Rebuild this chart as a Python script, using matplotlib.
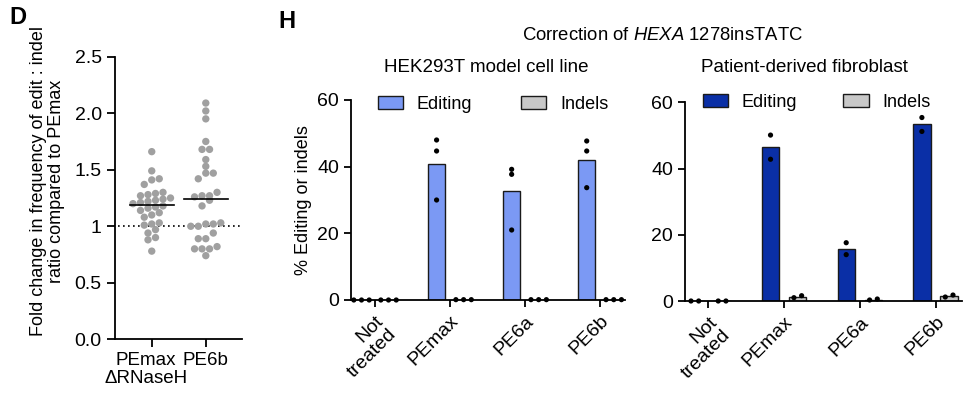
import numpy as np
import matplotlib
matplotlib.use("Agg")
import matplotlib.pyplot as plt
from matplotlib.patches import Patch
from matplotlib.transforms import ScaledTranslation

plt.rcParams["font.family"] = ["Liberation Sans", "DejaVu Sans"]
plt.rcParams["mathtext.fontset"] = "custom"
plt.rcParams["mathtext.rm"] = "Liberation Sans"
plt.rcParams["mathtext.it"] = "Liberation Sans:italic"

# --- Panel D data ---
d_groups = ["PEmax\nΔRNaseH", "PE6b"]
d_pemax = [1.66, 1.49, 1.42, 1.41, 1.37, 1.30, 1.29, 1.28, 1.27, 1.25, 1.24, 1.23,
           1.22, 1.21, 1.20, 1.18, 1.17, 1.16, 1.14, 1.12, 1.10, 1.08, 1.03, 1.02,
           1.01, 0.97, 0.94, 0.90, 0.88, 0.78]
d_pe6b = [2.09, 2.02, 1.95, 1.75, 1.68, 1.68, 1.59, 1.53, 1.47, 1.47, 1.42, 1.30,
          1.27, 1.26, 1.27, 1.23, 1.18, 1.02, 1.02, 1.00, 1.00, 1.03, 0.94, 0.89,
          0.89, 0.80, 0.80, 0.80, 0.82, 0.74]

# --- Panel H data ---
h_groups = ["Not\ntreated", "PEmax", "PE6a", "PE6b"]
hek_edit = [[0, 0, 0], [48.0, 44.7, 30.0], [39.2, 37.7, 21.0], [47.7, 44.7, 33.7]]
hek_indel = [[0, 0, 0], [0.1, 0.1, 0.1], [0.1, 0.1, 0.1], [0.1, 0.1, 0.1]]
fib_edit = [[0, 0], [50.1, 42.8], [17.6, 14.0], [55.4, 51.2]]
fib_indel = [[0, 0], [1.0, 1.6], [0.3, 0.6], [1.2, 1.8]]

DPI = 100


def swarm_offsets(values, px_per_unit, dot_px, gap_px):
    # GraphPad-like rows: points within one dot height share a row, centred
    vals = np.asarray(values, dtype=float)
    order = np.argsort(vals)
    offsets = np.zeros(len(vals))
    rows = []
    for i in order:
        if rows and (vals[i] - vals[rows[-1][0]]) * px_per_unit < dot_px:
            rows[-1].append(i)
        else:
            rows.append([i])
    for row in rows:
        n = len(row)
        for k, i in enumerate(row):
            offsets[i] = (k - (n - 1) / 2) * gap_px
    return offsets


fig = plt.figure(figsize=(9.68, 3.96), dpi=DPI)

# ---------------- Panel D ----------------
axd = fig.add_axes([115 / 968, 1 - 339.3 / 396, 127 / 968, 282.6 / 396])
d_xlim = (-0.68, 1.67)
d_ylim = (0, 2.5)
px_x = 127 / (d_xlim[1] - d_xlim[0])
px_y = 282.6 / (d_ylim[1] - d_ylim[0])
for i, vals in enumerate([d_pemax, d_pe6b]):
    off = swarm_offsets(vals, px_y, 6.5, 7.5) / px_x
    axd.scatter(i + off, vals, s=28, color="#a0a0a0", edgecolors="none", zorder=3)
    med = np.median(vals)
    axd.plot([i - 0.41, i + 0.41], [med, med], color="black", lw=1.2, zorder=4)
axd.axhline(1, xmin=0.02, xmax=1.0, color="black", lw=1.2, ls=(0, (1, 2)), zorder=2)
axd.set_xlim(*d_xlim)
axd.set_ylim(*d_ylim)
axd.set_yticks([0, 0.5, 1, 1.5, 2.0, 2.5])
axd.set_yticklabels(["0.0", "0.5", "1", "1.5", "2.0", "2.5"])
axd.set_xticks([0, 1])
axd.set_xticklabels(d_groups, linespacing=1.05)
axd.spines[["top", "right"]].set_visible(False)
for sp in ["left", "bottom"]:
    axd.spines[sp].set_linewidth(1.3)
axd.tick_params(labelsize=14, width=1.3, length=6)
axd.tick_params(axis="x", labelsize=13.5)
# first label sits a little left of its tick in the original
lab0 = axd.xaxis.get_major_ticks()[0].label1
lab0.set_transform(lab0.get_transform() + ScaledTranslation(-6 / DPI, 0, fig.dpi_scale_trans))
axd.set_ylabel("Fold change in frequency of edit : indel\nratio compared to PEmax",
               fontsize=13, linespacing=1.1)
axd.yaxis.set_label_coords(-0.39, 0.56)
fig.text(18 / 968, 1 - 18 / 396, "D", fontsize=17, fontweight="bold",
         ha="center", va="center")


# ---------------- Panel H ----------------
def bar_panel(rect, xlim, edit, indel, color, leg_xy, colspace):
    ax = fig.add_axes(rect)
    w_px = rect[2] * 968
    h_px = rect[3] * 396
    pxx = w_px / (xlim[1] - xlim[0])
    pxy = h_px / 60
    x = np.arange(len(h_groups))
    dx = 0.18
    bw = 0.23
    e_means = [np.mean(v) for v in edit]
    i_means = [np.mean(v) for v in indel]
    ax.bar(x - dx, e_means, width=bw, color=color, edgecolor="#1a1a1a", lw=1.0, zorder=2)
    ax.bar(x + dx, i_means, width=bw, color="#c8c8c8", edgecolor="#1a1a1a", lw=1.0, zorder=2)
    for j in range(len(h_groups)):
        for vals, c in [(edit[j], x[j] - dx), (indel[j], x[j] + dx)]:
            off = swarm_offsets(vals, pxy, 5.0, 7.7) / pxx
            ax.scatter(c + off, vals, s=14, color="black", edgecolors="none",
                       zorder=4, clip_on=False)
    ax.set_xlim(*xlim)
    ax.set_ylim(0, 60)
    ax.set_yticks([0, 20, 40, 60])
    ax.set_xticks(x)
    ax.set_xticklabels(h_groups, rotation=45, ha="right", rotation_mode="anchor",
                       linespacing=1.1)
    ax.spines[["top", "right"]].set_visible(False)
    for sp in ["left", "bottom"]:
        ax.spines[sp].set_linewidth(1.3)
    ax.tick_params(labelsize=14, width=1.3, length=5)
    ax.tick_params(axis="x", pad=4)
    handles = [Patch(facecolor=color, edgecolor="#1a1a1a", label="Editing"),
               Patch(facecolor="#c8c8c8", edgecolor="#1a1a1a", label="Indels")]
    ax.legend(handles=handles, loc="center left", bbox_to_anchor=leg_xy,
              ncol=2, frameon=False, fontsize=13, handlelength=1.4, handleheight=0.75,
              columnspacing=colspace, handletextpad=0.75, borderaxespad=0, borderpad=0)
    return ax


axl = bar_panel([351 / 968, 1 - 300 / 396, 274 / 968, 200 / 396], (-0.32, 3.33),
                hek_edit, hek_indel, "#7b99f4", (0.0985, 0.978), 2.7)
axl.set_ylabel("% Editing or indels", fontsize=13, labelpad=4)
axr = bar_panel([685 / 968, 1 - 301 / 396, 277 / 968, 198.7 / 396], (-0.31, 3.35),
                fib_edit, fib_indel, "#0a2fa6", (0.065, 0.999), 2.55)

fig.text(486 / 968, 1 - 67 / 396, "HEK293T model cell line", fontsize=13.5,
         ha="center", va="center")
fig.text(804 / 968, 1 - 67 / 396, "Patient-derived fibroblast", fontsize=13.5,
         ha="center", va="center")
fig.text(662 / 968, 1 - 35 / 396, "Correction of $\\mathit{HEXA}$ 1278insTATC",
         fontsize=13.3, ha="center", va="center")
fig.text(287 / 968, 1 - 22 / 396, "H", fontsize=17, fontweight="bold",
         ha="center", va="center")

fig.savefig("out.png", dpi=DPI)
